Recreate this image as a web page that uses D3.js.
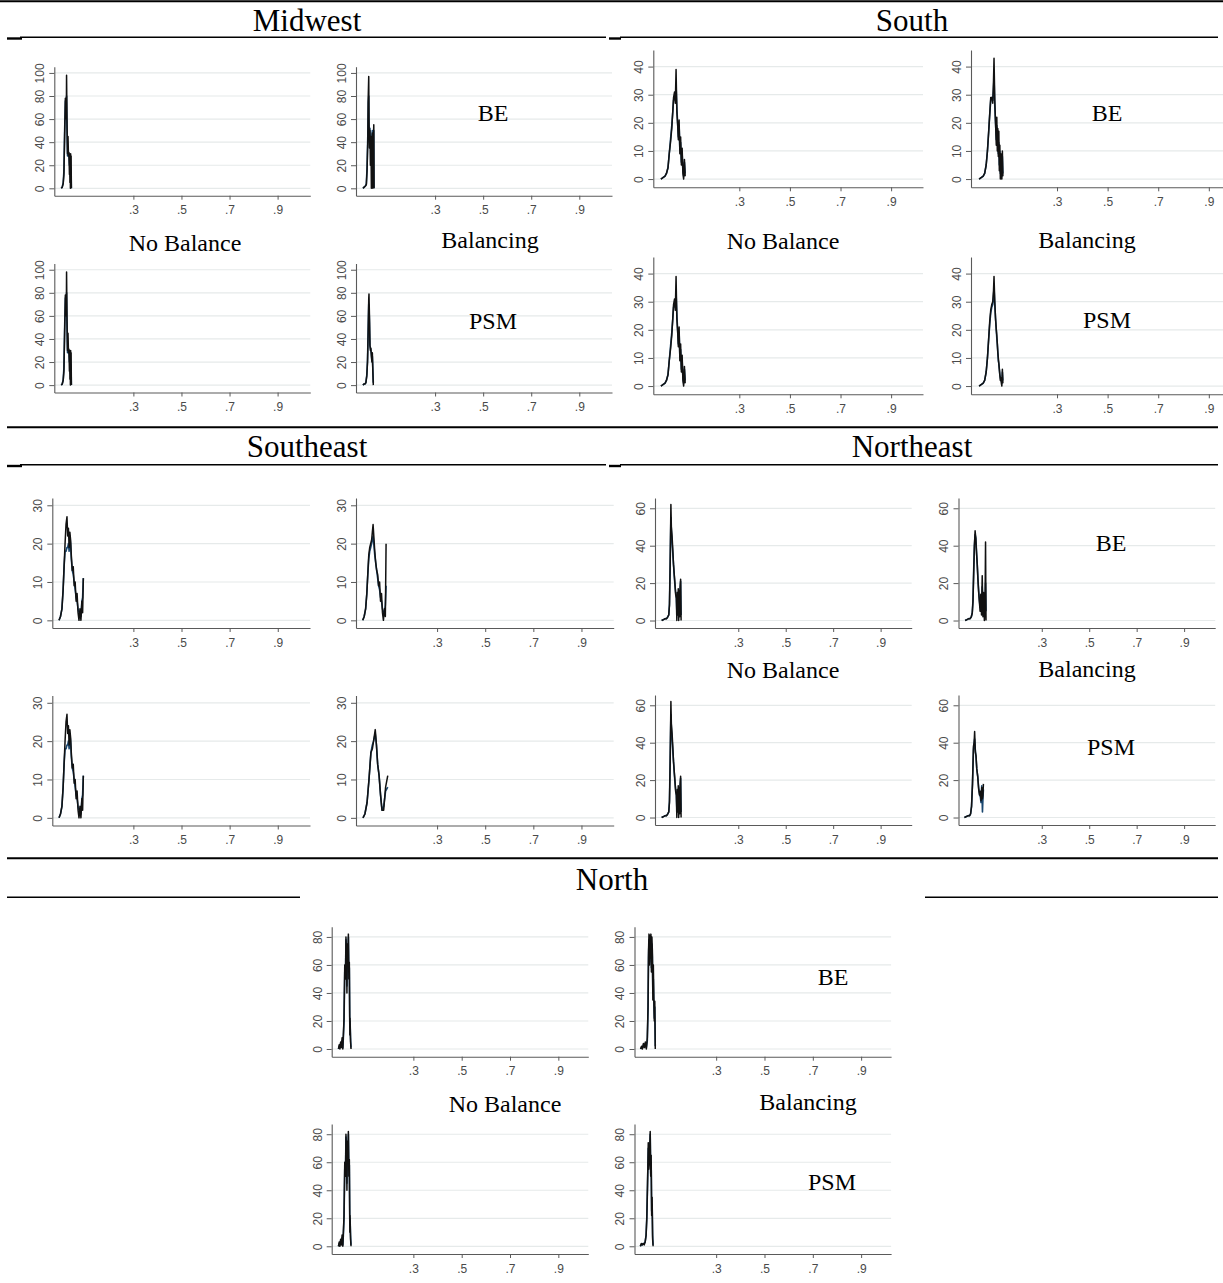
<!DOCTYPE html>
<html>
<head>
<meta charset="utf-8">
<script src="https://cdn.jsdelivr.net/npm/d3@7"></script>
<style>
  body { margin: 0; background: #fff; }
  svg { display: block; }
</style>
</head>
<body>
<svg id="fig" width="1223" height="1283"></svg>
<script>
// ---- tick values and labels ----
const xTicks = [0.3, 0.5, 0.7, 0.9];
const xTickLabels = [".3", ".5", ".7", ".9"];
const midwestYTicks = [0, 20, 40, 60, 80, 100];
const southYTicks = [0, 10, 20, 30, 40];
const southeastYTicks = [0, 10, 20, 30];
const northeastYTicks = [0, 20, 40, 60];
const northYTicks = [0, 20, 40, 60, 80];

const regions = ["Midwest", "South", "Southeast", "Northeast", "North"];
const panelLabels = { nb: "No Balance", bal: "Balancing", be: "BE", psm: "PSM" };

// ---- kernel densities of the propensity score (treated / control) ----
// Midwest
const midwestNoBalanceX = [0.000,0.004,0.008,0.011,0.014,0.017,0.019,0.021,0.022,0.024,0.026,0.028,0.030,0.032,0.034,0.035,0.036,0.037,0.038,0.039,0.040,0.041,0.042];
const midwestNoBalanceTreated = [0,1,4,12,45,78,76,60,98,55,30,45,28,31,12,30,5,29,0,30,2,28,0];
const midwestNoBalanceControl = [0,1,5,15,50,75,77,65,80,50,28,35,30,28,20,25,15,22,10,18,8,12,0];
const midwestBEX = [0.000,0.005,0.010,0.014,0.017,0.020,0.022,0.024,0.025,0.027,0.029,0.031,0.033,0.035,0.037,0.039,0.041,0.043,0.045,0.046];
const midwestBETreated = [0,1,2,3,15,40,80,97,60,35,50,20,45,0,35,48,0,40,55,0];
const midwestBEControl = [0,1,2,4,18,45,75,80,55,40,52,35,40,25,45,50,20,48,50,0];
const midwestPSMX = [0.000,0.004,0.008,0.012,0.016,0.019,0.022,0.024,0.025,0.027,0.029,0.031,0.033,0.035,0.037,0.039,0.041,0.043];
const midwestPSMTreated = [0,1,1,2,8,20,50,75,79,60,35,30,32,25,20,28,12,0];
const midwestPSMControl = [0,1,1,2,9,22,52,70,68,55,34,32,30,27,22,25,15,2];

// South
const southNoBalanceX = [-0.010,-0.002,0.006,0.012,0.018,0.023,0.028,0.033,0.037,0.040,0.044,0.047,0.050,0.053,0.056,0.059,0.062,0.065,0.068,0.071,0.074,0.077,0.080,0.083,0.086];
const southNoBalanceTreated = [0,0.5,1,2,4,9,13,18,24,29,31,27,39,24,20,14,21,9,15,5,11,2,0,7,1];
const southNoBalanceControl = [0,0.5,1,2,4,9,14,19,24,28,29,28,33,26,20,15,19,11,13,6,9,3,1,6,2];
const southBEX = [-0.008,0.000,0.008,0.014,0.020,0.025,0.030,0.034,0.038,0.042,0.046,0.049,0.051,0.054,0.057,0.060,0.062,0.064,0.066,0.068,0.070,0.072,0.074,0.076,0.078,0.080,0.082,0.084,0.086];
const southBETreated = [0,0.5,1,2,5,10,17,23,29,29,27,35,43,28,20,12,22,10,18,8,17,3,12,0,9,2,0,10,1];
const southBEControl = [0,0.5,1,2,5,10,17,23,28,29,28,32,36,26,20,14,19,12,15,9,13,5,10,2,7,3,1,8,2];
const southPSMX = [-0.008,0.000,0.008,0.014,0.020,0.025,0.030,0.034,0.038,0.042,0.046,0.049,0.051,0.054,0.057,0.060,0.062,0.064,0.066,0.068,0.070,0.072,0.074,0.076,0.078,0.080,0.082,0.084,0.086];
const southPSMTreated = [0,0.5,1,2,5,10,17,23,27,29,30,34,39,30,24,20,18,15,12,10,8,6,4,2,3,1,0,6,1];
const southPSMControl = [0,0.5,1,2,5,10,17,22,26,28,29,32,35,29,24,20,17,15,12,9,8,6,4,3,2,2,1,5,2];

// Southeast
const southeastNoBalanceX = [-0.009,-0.003,0.003,0.008,0.012,0.016,0.020,0.024,0.027,0.030,0.033,0.036,0.039,0.042,0.046,0.050,0.054,0.058,0.062,0.066,0.070,0.074,0.078,0.082,0.086,0.089,0.092];
const southeastNoBalanceTreated = [0,1,3,8,14,20,25,27,22,24,19,23,21,17,13,14,9,10,5,7,2,0,3,0,5,2,11];
const southeastNoBalanceControl = [0,1,3,8,14,18,18,19,19,20,18,22,20,16,13,12,10,8,6,5,3,2,2,1,5,6,11];
const southeastBEX = [-0.009,-0.003,0.003,0.008,0.012,0.016,0.020,0.024,0.028,0.031,0.034,0.037,0.041,0.045,0.049,0.053,0.057,0.061,0.065,0.069,0.073,0.077,0.081,0.085,0.088];
const southeastBETreated = [0,1,3,7,12,17,19,20,21,23,25,22,18,15,13,12,9,10,5,7,2,0,3,1,20];
const southeastBEControl = [0,1,3,7,12,16,18,19,20,21,22,20,17,15,13,11,9,8,6,5,3,2,2,4,9];
const southeastPSMX = [-0.008,0.000,0.009,0.017,0.025,0.031,0.036,0.043,0.048,0.053,0.059,0.065,0.071,0.078,0.086,0.095];
const southeastPSMTreated = [0,1,4,10,17,18,20,23,19,14,11,6,2,2,8,11];
const southeastPSMControl = [0,1,4,10,17,19,20,22,19,14,11,6,2,3,7,8];

// Northeast
const northeastNoBalanceX = [-0.023,-0.015,-0.008,-0.002,0.003,0.007,0.010,0.013,0.016,0.018,0.021,0.024,0.027,0.030,0.033,0.036,0.039,0.041,0.043,0.045,0.047,0.049,0.051,0.053,0.055,0.057,0.059];
const northeastNoBalanceTreated = [0,0.5,1,1,2,3,8,30,62,50,45,38,30,25,20,14,12,0,15,3,17,0,16,2,18,22,0];
const northeastNoBalanceControl = [0,0.5,1,1,2,3,9,32,55,48,42,36,30,24,19,15,12,5,13,6,14,4,15,6,17,21,3];
const northeastBEX = [-0.023,-0.015,-0.008,-0.002,0.003,0.007,0.010,0.013,0.016,0.019,0.022,0.025,0.028,0.031,0.034,0.037,0.040,0.043,0.046,0.049,0.052,0.055,0.058,0.061,0.063,0.065];
const northeastBETreated = [0,0.5,1,1,2,4,10,25,40,48,44,36,30,22,15,10,5,14,3,24,2,15,0,10,42,0];
const northeastBEControl = [0,0.5,1,1,2,4,11,27,40,46,44,37,30,22,16,11,7,12,5,18,5,12,3,8,20,5];
const northeastPSMX = [-0.026,-0.018,-0.010,-0.004,0.000,0.004,0.008,0.012,0.015,0.017,0.020,0.023,0.026,0.030,0.034,0.038,0.041,0.044,0.047,0.050,0.052,0.054];
const northeastPSMTreated = [0,0.5,1,1,2,6,18,38,40,46,35,33,26,22,15,12,14,9,16,10,12,18];
const northeastPSMControl = [0,0.5,1,1,2,6,18,36,40,42,36,32,26,22,16,12,11,8,17,3,10,15];

// North
const northNoBalanceX = [-0.010,-0.007,-0.004,-0.001,0.002,0.005,0.008,0.010,0.013,0.016,0.019,0.021,0.023,0.025,0.027,0.029,0.031,0.033,0.035,0.037,0.038,0.040,0.042];
const northNoBalanceTreated = [0,3,0,5,1,8,0,9,22,60,50,80,70,40,75,60,82,50,62,10,22,5,0];
const northNoBalanceControl = [0,2,1,4,2,6,1,7,20,55,52,78,68,45,70,62,80,55,58,15,20,8,1];
const northBEX = [-0.013,-0.009,-0.005,-0.001,0.003,0.007,0.011,0.015,0.018,0.020,0.022,0.024,0.026,0.028,0.030,0.032,0.034,0.036,0.038,0.040,0.042,0.044,0.046,0.048];
const northBETreated = [0,2,0,4,1,5,0,8,30,70,82,60,81,65,82,55,80,70,35,60,35,20,34,0];
const northBEControl = [0,1,1,3,2,4,1,6,28,65,78,62,78,66,80,58,75,66,40,50,33,22,30,2];
const northPSMX = [-0.014,-0.010,-0.006,-0.002,0.002,0.006,0.010,0.013,0.016,0.019,0.021,0.023,0.025,0.027,0.029,0.031,0.033,0.035,0.037,0.039];
const northPSMTreated = [0,2,1,2,1,3,8,20,45,74,55,60,70,82,50,65,22,35,5,0];
const northPSMControl = [0,1,1,2,2,3,8,21,44,70,58,62,68,80,52,60,25,30,8,1];

// ---- assemble per-region series ----
const pack = (xs, ys) => xs.map((v, i) => [v, ys[i]]);
const regionData = {
  Midwest: {
    yTicks: midwestYTicks,
    nb:  { t: pack(midwestNoBalanceX, midwestNoBalanceTreated), c: pack(midwestNoBalanceX, midwestNoBalanceControl) },
    be:  { t: pack(midwestBEX, midwestBETreated), c: pack(midwestBEX, midwestBEControl) },
    psm: { t: pack(midwestPSMX, midwestPSMTreated), c: pack(midwestPSMX, midwestPSMControl) }
  },
  South: {
    yTicks: southYTicks,
    nb:  { t: pack(southNoBalanceX, southNoBalanceTreated), c: pack(southNoBalanceX, southNoBalanceControl) },
    be:  { t: pack(southBEX, southBETreated), c: pack(southBEX, southBEControl) },
    psm: { t: pack(southPSMX, southPSMTreated), c: pack(southPSMX, southPSMControl) }
  },
  Southeast: {
    yTicks: southeastYTicks,
    nb:  { t: pack(southeastNoBalanceX, southeastNoBalanceTreated), c: pack(southeastNoBalanceX, southeastNoBalanceControl) },
    be:  { t: pack(southeastBEX, southeastBETreated), c: pack(southeastBEX, southeastBEControl) },
    psm: { t: pack(southeastPSMX, southeastPSMTreated), c: pack(southeastPSMX, southeastPSMControl) }
  },
  Northeast: {
    yTicks: northeastYTicks,
    nb:  { t: pack(northeastNoBalanceX, northeastNoBalanceTreated), c: pack(northeastNoBalanceX, northeastNoBalanceControl) },
    be:  { t: pack(northeastBEX, northeastBETreated), c: pack(northeastBEX, northeastBEControl) },
    psm: { t: pack(northeastPSMX, northeastPSMTreated), c: pack(northeastPSMX, northeastPSMControl) }
  },
  North: {
    yTicks: northYTicks,
    nb:  { t: pack(northNoBalanceX, northNoBalanceTreated), c: pack(northNoBalanceX, northNoBalanceControl) },
    be:  { t: pack(northBEX, northBETreated), c: pack(northBEX, northBEControl) },
    psm: { t: pack(northPSMX, northPSMTreated), c: pack(northPSMX, northPSMControl) }
  }
};

// ---- page layout (axes frames, axis ranges, text anchors) ----
const layout = {
  Midwest:   { cols: [54.3, 356], rows: [66.7, 263.5], w: 256, h: 129, xDom: [-0.029, 1.036], yDom: [-6.4, 105.4],
               title: [307, 31], labels: { nb: [185, 251], bal: [490, 248], be: [493, 121], psm: [493, 329] } },
  South:     { cols: [653.3, 971], rows: [50, 257], w: 269.7, h: 137.3, xDom: [-0.04, 1.026], yDom: [-2.93, 45.9],
               title: [912, 31], labels: { nb: [783, 249], bal: [1087, 248], be: [1107, 121], psm: [1107, 328] } },
  Southeast: { cols: [52.3, 356], rows: [498, 695.5], w: 257.7, h: 130, xDom: [-0.037, 1.034], yDom: [-2.0, 31.9],
               title: [307, 457], labels: null },
  Northeast: { cols: [655, 958.5], rows: [498, 695], w: 256.7, h: 130, xDom: [-0.051, 1.031], yDom: [-4.0, 65.5],
               title: [912, 457], labels: { nb: [783, 678], bal: [1087, 677], be: [1111, 551], psm: [1111, 755] } },
  North:     { cols: [331.7, 634.5], rows: [926.7, 1124], w: 256.6, h: 130, xDom: [-0.038, 1.024], yDom: [-5.5, 87.3],
               title: [612, 890], labels: { nb: [505, 1112], bal: [808, 1110], be: [833, 985], psm: [832, 1190] } }
};

// which method sits in which cell: [row][col]
const cellMethods = [["nb", "be"], ["nb", "psm"]];

const rules = [
  { x1: 0, x2: 1223, y: 1.2, w: 2 },
  { x1: 20, x2: 606, y: 37.3, w: 1.4 }, { x1: 7, x2: 22, y: 38.5, w: 2.4 },
  { x1: 620, x2: 1218, y: 37.3, w: 1.4 }, { x1: 609, x2: 621, y: 38.5, w: 2.4 },
  { x1: 7, x2: 1218, y: 427.3, w: 2 },
  { x1: 20, x2: 606, y: 464.8, w: 1.4 }, { x1: 7, x2: 22, y: 466, w: 2.4 },
  { x1: 620, x2: 1218, y: 464.8, w: 1.4 }, { x1: 609, x2: 621, y: 466, w: 2.4 },
  { x1: 7, x2: 1218, y: 858.3, w: 2 },
  { x1: 7, x2: 300, y: 897.3, w: 1.6 },
  { x1: 925, x2: 1218, y: 897.3, w: 1.6 }
];

const svg = d3.select("#fig");

// horizontal rules separating the regional blocks
svg.append("g").selectAll("line").data(rules).join("line")
  .attr("x1", d => d.x1).attr("x2", d => d.x2)
  .attr("y1", d => d.y).attr("y2", d => d.y)
  .attr("stroke", "#000").attr("stroke-width", d => d.w);

const axisColor = "#5a5a5a";
const tickFont = "'Liberation Sans', Arial, sans-serif";
const serif = "'Liberation Serif', 'Times New Roman', serif";

function drawPanel(left, top, cfg, yTicks, series) {
  const g = svg.append("g");
  const x = d3.scaleLinear().domain(cfg.xDom).range([left, left + cfg.w]);
  const y = d3.scaleLinear().domain(cfg.yDom).range([top + cfg.h, top]);

  // light horizontal grid at each y tick
  g.append("g").selectAll("line").data(yTicks).join("line")
    .attr("x1", left).attr("x2", left + cfg.w)
    .attr("y1", d => y(d)).attr("y2", d => y(d))
    .attr("stroke", "#e6eaea").attr("stroke-width", 1.2);

  // y axis with rotated labels
  const ya = g.append("g").attr("transform", `translate(${left},0)`)
    .call(d3.axisLeft(y).tickValues(yTicks).tickSize(5).tickSizeOuter(0));
  ya.select(".domain").attr("stroke", axisColor).attr("stroke-width", 1.1);
  ya.selectAll(".tick line").attr("stroke", axisColor);
  ya.selectAll(".tick text")
    .attr("x", 0).attr("dy", "0.36em")
    .attr("text-anchor", "middle")
    .attr("transform", "translate(-14.5,0) rotate(-90)")
    .attr("fill", "#4a4a4a").style("font-family", tickFont).style("font-size", "12px");

  // x axis
  const xa = g.append("g").attr("transform", `translate(0,${top + cfg.h})`)
    .call(d3.axisBottom(x).tickValues(xTicks).tickFormat((d, i) => xTickLabels[i])
      .tickSize(4).tickSizeOuter(0).tickPadding(6));
  xa.select(".domain").attr("stroke", axisColor).attr("stroke-width", 1.1);
  xa.selectAll(".tick line").attr("stroke", axisColor);
  xa.selectAll(".tick text").attr("fill", "#4a4a4a")
    .style("font-family", tickFont).style("font-size", "12px");

  // density curves: control underneath, treated on top
  const line = d3.line().x(d => x(d[0])).y(d => y(d[1]));
  g.append("path").datum(series.c).attr("d", line)
    .attr("fill", "none").attr("stroke", "#1a476f").attr("stroke-width", 1.6)
    .attr("stroke-linejoin", "round");
  g.append("path").datum(series.t).attr("d", line)
    .attr("fill", "none").attr("stroke", "#111").attr("stroke-width", 1.5)
    .attr("stroke-linejoin", "round");
}

regions.forEach(name => {
  const cfg = layout[name];
  const data = regionData[name];

  svg.append("text")
    .attr("x", cfg.title[0]).attr("y", cfg.title[1])
    .attr("text-anchor", "middle")
    .style("font-family", serif).style("font-size", "31px")
    .text(name);

  cellMethods.forEach((row, ri) => {
    row.forEach((method, ci) => {
      drawPanel(cfg.cols[ci], cfg.rows[ri], cfg, data.yTicks, data[method]);
    });
  });

  if (cfg.labels) {
    Object.keys(panelLabels).forEach(k => {
      svg.append("text")
        .attr("x", cfg.labels[k][0]).attr("y", cfg.labels[k][1])
        .attr("text-anchor", "middle")
        .style("font-family", serif).style("font-size", "24px")
        .text(panelLabels[k]);
    });
  }
});
</script>
</body>
</html>
